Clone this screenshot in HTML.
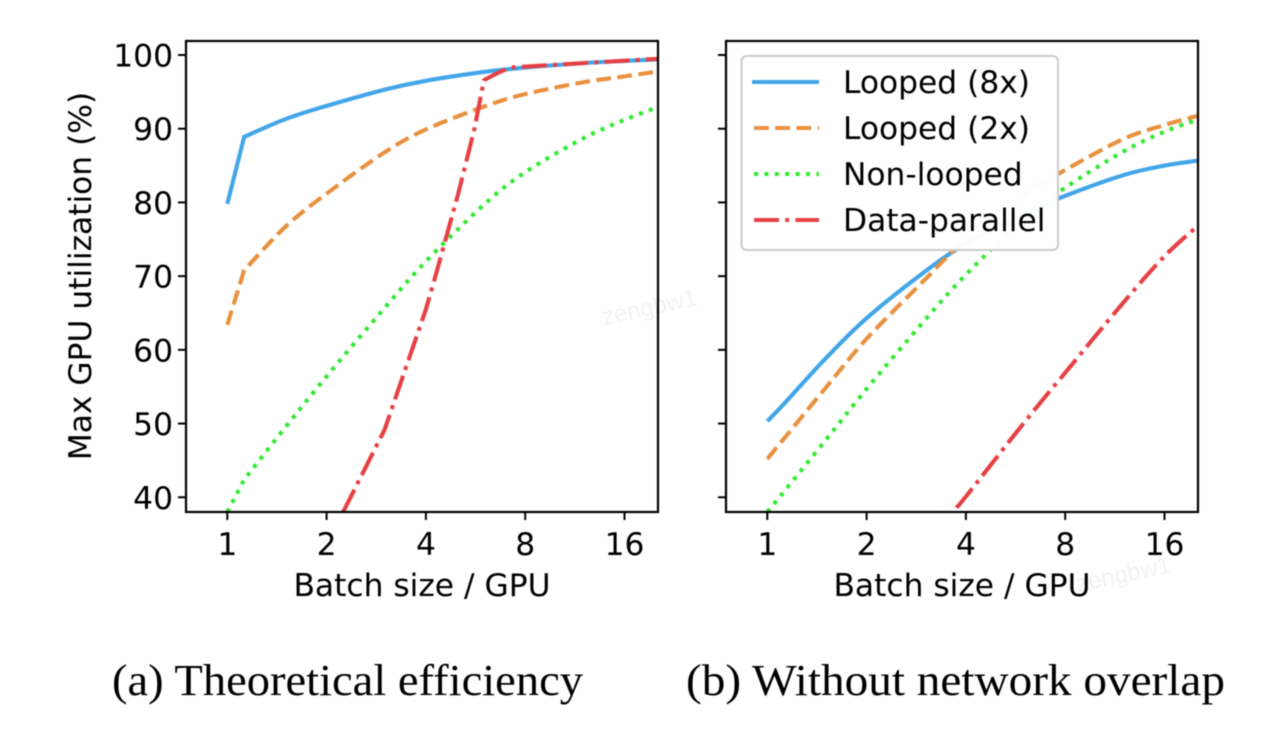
<!DOCTYPE html>
<html lang="en">
<head>
<meta charset="utf-8">
<title>Max GPU utilization vs batch size</title>
<style>
  html, body { margin: 0; padding: 0; background: #fff; }
  body { width: 1280px; height: 730px; overflow: hidden; }
  svg { display: block; filter: blur(0.45px); }
  .tick-label, .axis-title, .legend-text { font-family: "DejaVu Sans", "Liberation Sans", sans-serif; fill: #000; }
  .tick-label { font-size: 31.3px; }
  .axis-title { font-size: 31.3px; }
  .legend-text { font-size: 31.3px; }
  .caption { font-family: "Liberation Serif", serif; font-size: 44.5px; fill: #000; }
  .watermark { font-family: "Liberation Sans", sans-serif; font-size: 24px; fill: #000; opacity: 0.05; }
</style>
</head>
<body>
<svg id="chart" width="1280" height="730" viewBox="0 0 1280 730" xmlns="http://www.w3.org/2000/svg">
  <defs>
    <clipPath id="clip-a"><rect x="186" y="41" width="472" height="471"/></clipPath>
    <clipPath id="clip-b"><rect x="726" y="41" width="472" height="471"/></clipPath>
  </defs>

  <text class="watermark" transform="translate(604 325) rotate(-12)">zengbw1</text>
  <text class="watermark" transform="translate(1078 592) rotate(-12)">zengbw1</text>

  <g id="panel-a"></g>
  <g id="panel-b"></g>

  <text class="axis-title" text-anchor="middle" transform="translate(91 276) rotate(-90)">Max GPU utilization (%)</text>
  <text class="axis-title" x="422" y="596" text-anchor="middle">Batch size / GPU</text>
  <text class="axis-title" x="962" y="596" text-anchor="middle">Batch size / GPU</text>

  <g>
    <rect x="741.5" y="56" width="316.5" height="194" rx="5" ry="5" fill="#fff" fill-opacity="0.97" stroke="#cccccc" stroke-width="2"/>
    <line x1="752" x2="819" y1="82" y2="82" stroke="#42a5e8" stroke-width="4"/>
    <text class="legend-text" x="843" y="93">Looped (8x)</text>
    <line x1="754" x2="819" y1="128" y2="128" stroke="#e8913f" stroke-width="4" stroke-dasharray="14.8 6.4"/>
    <text class="legend-text" x="843" y="139">Looped (2x)</text>
    <line x1="754" x2="819" y1="174" y2="174" stroke="#33e833" stroke-width="4" stroke-dasharray="4 6.4"/>
    <text class="legend-text" x="843" y="185">Non-looped</text>
    <line x1="754" x2="819" y1="220" y2="220" stroke="#e64044" stroke-width="4" stroke-dasharray="25 6.2 4 6.2"/>
    <text class="legend-text" x="843" y="231">Data-parallel</text>
  </g>

  <text class="caption" x="112" y="695" textLength="471" lengthAdjust="spacingAndGlyphs">(a) Theoretical efficiency</text>
  <text class="caption" x="686" y="695" textLength="539" lengthAdjust="spacingAndGlyphs">(b) Without network overlap</text>
</svg>
<script>
// Shared axis ticks
const xTicks = [1, 2, 4, 8, 16];
const yTicks = [40, 50, 60, 70, 80, 90, 100];

// Batch sizes shared by the smooth series
const batchSizes = [1, 1.125, 1.5, 2, 3, 4, 6, 8, 12, 16, 20.4];

// Panel (a): theoretical efficiency
const aLooped8x = [79.8, 88.9, 91.3, 93.1, 95.3, 96.5, 97.7, 98.3, 98.9, 99.2, 99.4];
const aLooped2x = [63.4, 70.8, 76.7, 81.2, 86.8, 89.9, 93, 94.7, 96.3, 97.1, 97.8];
const aNonLooped = [38, 42.4, 49.5, 56.4, 65.7, 72, 79.7, 84.1, 88.7, 91.2, 93];
const aParallelSizes = [2.245, 3, 4, 4.3, 5, 5.6, 6, 6.7, 7.2, 12, 20.4];
const aParallel = [38, 49.2, 65.5, 70.4, 81, 89.8, 96.6, 97.7, 98.3, 98.9, 99.5];

// Panel (b): without network overlap
const bLooped8x = [50.3, 52.7, 58.8, 64.3, 70.6, 74.4, 78.5, 80.9, 83.7, 85, 85.7];
const bLooped2x = [45.2, 48, 54.8, 61.5, 69.5, 75, 81, 84.4, 88.6, 90.5, 91.8];
const bNonLooped = [38, 40.8, 47.7, 54.7, 64, 70.2, 77.8, 82, 86.9, 89.6, 91.3];
const bParallelSizes = [3.74, 4, 6, 8, 12, 16, 20.4];
const bParallel = [38.6, 40.1, 50.1, 56.9, 66.4, 72.7, 77];

const NS = 'http://www.w3.org/2000/svg';
const yMin = 38, yMax = 101.9, plotTop = 41, plotBottom = 512;
const plotWidth = 472;

function yScale(v) {
  return plotBottom - (v - yMin) / (yMax - yMin) * (plotBottom - plotTop);
}
function makeXScale(plotLeft) {
  return function (b) { return plotLeft + 41.3 + Math.log2(b) * 99.3; };
}
function make(tag, attrs, parent) {
  const el = document.createElementNS(NS, tag);
  for (const k in attrs) el.setAttribute(k, attrs[k]);
  parent.appendChild(el);
  return el;
}
// Straight segments up to index smoothFrom, Catmull-Rom spline through the remaining data points.
function buildPath(pts, smoothFrom) {
  let d = 'M' + pts[0][0].toFixed(2) + ' ' + pts[0][1].toFixed(2);
  for (let i = 1; i < pts.length; i++) {
    const p1 = pts[i - 1], p2 = pts[i];
    if (smoothFrom < 0 || i - 1 < smoothFrom) {
      d += ' L' + p2[0].toFixed(2) + ' ' + p2[1].toFixed(2);
    } else {
      const p0 = i - 2 >= smoothFrom ? pts[i - 2] : p1;
      const p3 = i + 1 < pts.length ? pts[i + 1] : p2;
      const c1x = p1[0] + (p2[0] - p0[0]) / 6, c1y = p1[1] + (p2[1] - p0[1]) / 6;
      const c2x = p2[0] - (p3[0] - p1[0]) / 6, c2y = p2[1] - (p3[1] - p1[1]) / 6;
      d += ' C' + c1x.toFixed(2) + ' ' + c1y.toFixed(2) + ' ' + c2x.toFixed(2) + ' ' + c2y.toFixed(2) + ' ' + p2[0].toFixed(2) + ' ' + p2[1].toFixed(2);
    }
  }
  return d;
}
function drawLine(parent, s, xScale, clipId, name) {
  const pts = s.x.map(function (b, i) { return [xScale(b), yScale(s.y[i])]; });
  const line = make('path', {
    d: buildPath(pts, s.smoothFrom), fill: 'none', stroke: s.color, 'stroke-width': 4.1,
    'stroke-linejoin': 'round', 'clip-path': 'url(#' + clipId + ')'
  }, parent);
  if (s.dash) line.setAttribute('stroke-dasharray', s.dash);
  
  
}
function drawPanel(groupId, plotLeft, clipId, showYLabels, series, prefix) {
  const g = document.getElementById(groupId);
  const xScale = makeXScale(plotLeft);

  series.forEach(function (s) {
    drawLine(g, s, xScale, clipId, prefix + '-' + s.name);
  });

  const frame = make('rect', {
    x: plotLeft, y: plotTop, width: plotWidth, height: plotBottom - plotTop,
    fill: 'none', stroke: '#000', 'stroke-width': 2.2
  }, g);
  
  

  xTicks.forEach(function (t) {
    const x = xScale(t);
    const tick = make('line', { x1: x, x2: x, y1: plotBottom, y2: plotBottom + 8, stroke: '#000', 'stroke-width': 2 }, g);
    
    
    const label = make('text', { x: x, y: 555, 'text-anchor': 'middle', class: 'tick-label' }, g);
    label.textContent = String(t);
    
    
  });

  yTicks.forEach(function (t) {
    const y = yScale(t);
    const tick = make('line', { x1: plotLeft - 8, x2: plotLeft, y1: y, y2: y, stroke: '#000', 'stroke-width': 2 }, g);
    
    
    if (showYLabels) {
      const label = make('text', { x: plotLeft - 13, y: y + 11.5, 'text-anchor': 'end', class: 'tick-label' }, g);
      label.textContent = String(t);
      
      
    }
  });
}

const BLUE = '#42a5e8', ORANGE = '#e8913f', GREEN = '#33e833', RED = '#e64044';
const DASHED = '14.8 6.4', DOTTED = '4 6.4', DASHDOT = '25 6.2 4 6.2';

drawPanel('panel-a', 186, 'clip-a', true, [
  { name: 'looped-8x', x: batchSizes, y: aLooped8x, color: BLUE, dash: null, smoothFrom: 1 },
  { name: 'looped-2x', x: batchSizes, y: aLooped2x, color: ORANGE, dash: DASHED, smoothFrom: 1 },
  { name: 'non-looped', x: batchSizes, y: aNonLooped, color: GREEN, dash: DOTTED, smoothFrom: 1 },
  { name: 'data-parallel', x: aParallelSizes, y: aParallel, color: RED, dash: DASHDOT, smoothFrom: -1 }
], 'a');

drawPanel('panel-b', 726, 'clip-b', false, [
  { name: 'looped-8x', x: batchSizes, y: bLooped8x, color: BLUE, dash: null, smoothFrom: 0 },
  { name: 'looped-2x', x: batchSizes, y: bLooped2x, color: ORANGE, dash: DASHED, smoothFrom: 0 },
  { name: 'non-looped', x: batchSizes, y: bNonLooped, color: GREEN, dash: DOTTED, smoothFrom: 0 },
  { name: 'data-parallel', x: bParallelSizes, y: bParallel, color: RED, dash: DASHDOT, smoothFrom: 0 }
], 'b');
</script>
</body>
</html>
